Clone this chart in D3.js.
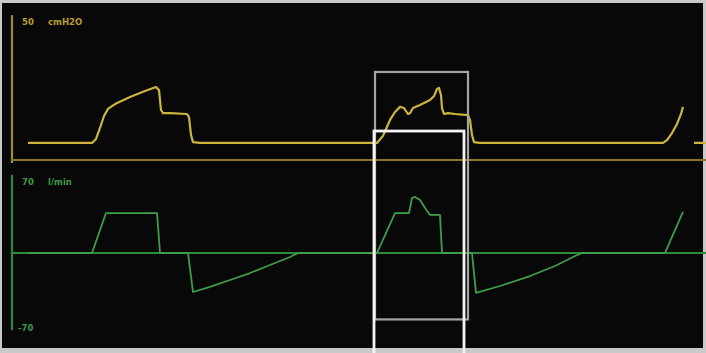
<!DOCTYPE html>
<html><head><meta charset="utf-8">
<script src="https://cdn.jsdelivr.net/npm/d3@7"></script>
<style>html,body{margin:0;padding:0;background:#000;}svg{display:block;}</style>
</head><body>
<script>
// ---- data (time in s, pressure in cmH2O, flow in l/min) ----
const pressureTime = [0.16,0.80,0.84,0.88,0.92,0.96,1.03,1.18,1.33,1.44,1.47,1.49,1.51,1.58,1.75,1.77,1.79,1.81,1.88,
  3.65,3.71,3.78,3.83,3.88,3.92,3.96,3.98,4.01,4.08,4.18,4.22,4.25,4.27,4.29,4.30,4.32,4.36,4.43,4.56,4.58,4.60,4.62,4.68,
  6.51,6.55,6.60,6.65,6.69,6.71,6.76,6.82,6.94];
const pressureValue = [6.0,6.0,7.4,11.3,15.5,18.0,19.7,22.2,24.3,25.7,24.6,17.6,16.5,16.5,16.2,15.1,8.8,6.3,6.0,
  6.0,8.5,14.1,16.9,18.7,18.3,16.2,16.5,18.3,19.4,21.1,22.5,25.0,25.4,22.9,18.3,16.2,16.5,16.2,15.8,14.1,8.8,6.3,6.0,
  6.0,7.0,9.5,12.7,16.2,18.7,null,6.0,6.0];
const flowTime = [0.16,0.80,0.94,1.45,1.48,1.76,1.81,1.98,2.18,2.38,2.58,2.78,2.86,
  3.65,3.83,3.97,4.00,4.03,4.08,4.15,4.18,4.28,4.30,4.60,4.64,4.88,5.18,5.43,5.63,5.70,6.53,6.71];
const flowValue = [0,0,37.3,37.3,0,0,-36.4,-31.7,-25.2,-18.7,-11.2,-3.7,0,
  0,37.3,37.3,51.3,52.3,49.5,39.2,35.5,35.5,0,0,-37.3,-30.8,-21.5,-12.1,-2.8,0,0,38.3];
const pressureTicks = [50];
const pressureUnit = "cmH2O";
const flowTicks = [70, -70];
const flowUnit = "l/min";
const timeDomain = [0, 6.94];
const pressureDomain = [0, 50];
const flowDomain = [-70, 70];
// highlight boxes (time extents)
const grayBoxTime = [3.63, 4.56];
const whiteBoxTime = [3.62, 4.52];

const W = 706, H = 353;
const svg = d3.select("body").append("svg").attr("width", W).attr("height", H);

// frame
svg.append("rect").attr("width", W).attr("height", H).attr("fill", "#c9c9c9");
svg.append("rect").attr("x", 2).attr("y", 3).attr("width", 701).attr("height", 345).attr("fill", "#080808");

const x = d3.scaleLinear().domain(timeDomain).range([12, 706]);
const yP = d3.scaleLinear().domain(pressureDomain).range([160, 18]);
const yF = d3.scaleLinear().domain(flowDomain).range([328, 178]);

const yellowAxis = "#a38b2c", yellowLine = "#cdb43c";
const greenAxis = "#2f8a3c", greenLine = "#3f9e46";

// pressure axes
svg.append("line").attr("x1", x(0)).attr("x2", x(0)).attr("y1", yP(51)).attr("y2", yP(0) + 3)
  .attr("stroke", yellowAxis).attr("stroke-width", 2.2);
svg.append("line").attr("x1", x(0)).attr("x2", x(timeDomain[1])).attr("y1", yP(0)).attr("y2", yP(0))
  .attr("stroke", "#8c7426").attr("stroke-width", 2);
svg.selectAll("text.pt").data(pressureTicks).enter().append("text")
  .attr("x", x(0) + 10).attr("y", d => yP(d) + 7).text(d => d)
  .attr("fill", "#b89e30").attr("font-family", "DejaVu Sans, sans-serif").attr("font-size", 8.5).attr("font-weight", "bold");
svg.append("text").attr("x", x(0) + 36).attr("y", yP(pressureTicks[0]) + 7).text(pressureUnit)
  .attr("fill", "#b89e30").attr("font-family", "DejaVu Sans, sans-serif").attr("font-size", 8.5).attr("font-weight", "bold");

// flow axes
svg.append("line").attr("x1", x(0)).attr("x2", x(0)).attr("y1", yF(73)).attr("y2", yF(-72))
  .attr("stroke", greenAxis).attr("stroke-width", 2.2);
svg.append("line").attr("x1", x(0)).attr("x2", x(timeDomain[1])).attr("y1", yF(0)).attr("y2", yF(0))
  .attr("stroke", greenAxis).attr("stroke-width", 1.8);
svg.selectAll("text.ft").data(flowTicks).enter().append("text")
  .attr("x", d => d > 0 ? x(0) + 10 : x(0) + 6).attr("y", d => d > 0 ? yF(d) + 7 : yF(d) + 3)
  .text(d => d > 0 ? d : "-" + Math.abs(d))
  .attr("fill", "#3c9a44").attr("font-family", "DejaVu Sans, sans-serif").attr("font-size", 8.5).attr("font-weight", "bold");
svg.append("text").attr("x", x(0) + 36).attr("y", yF(flowTicks[0]) + 7).text(flowUnit)
  .attr("fill", "#3c9a44").attr("font-family", "DejaVu Sans, sans-serif").attr("font-size", 8.5).attr("font-weight", "bold");

// waveforms
const pData = pressureTime.map((t, i) => ({t, v: pressureValue[i]}));
const fData = flowTime.map((t, i) => ({t, v: flowValue[i]}));
const lineP = d3.line().defined(d => d.v !== null).x(d => x(d.t)).y(d => yP(d.v)).curve(d3.curveLinear);
const lineF = d3.line().x(d => x(d.t)).y(d => yF(d.v)).curve(d3.curveLinear);
svg.append("path").datum(pData).attr("d", lineP).attr("fill", "none")
  .attr("stroke", yellowLine).attr("stroke-width", 2.2).attr("stroke-linejoin", "round");
svg.append("path").datum(fData).attr("d", lineF).attr("fill", "none")
  .attr("stroke", greenLine).attr("stroke-width", 1.8).attr("stroke-linejoin", "round");

// highlight boxes
svg.append("rect").attr("x", x(grayBoxTime[0])).attr("width", x(grayBoxTime[1]) - x(grayBoxTime[0]))
  .attr("y", yP(31)).attr("height", yF(-62) - yP(31))
  .attr("fill", "none").attr("stroke", "#a4a4a4").attr("stroke-width", 2.2);
svg.append("rect").attr("x", x(whiteBoxTime[0])).attr("width", x(whiteBoxTime[1]) - x(whiteBoxTime[0]))
  .attr("y", yP(10.2)).attr("height", 260)
  .attr("fill", "none").attr("stroke", "#f4f4f4").attr("stroke-width", 2.8);
</script>
</body></html>
